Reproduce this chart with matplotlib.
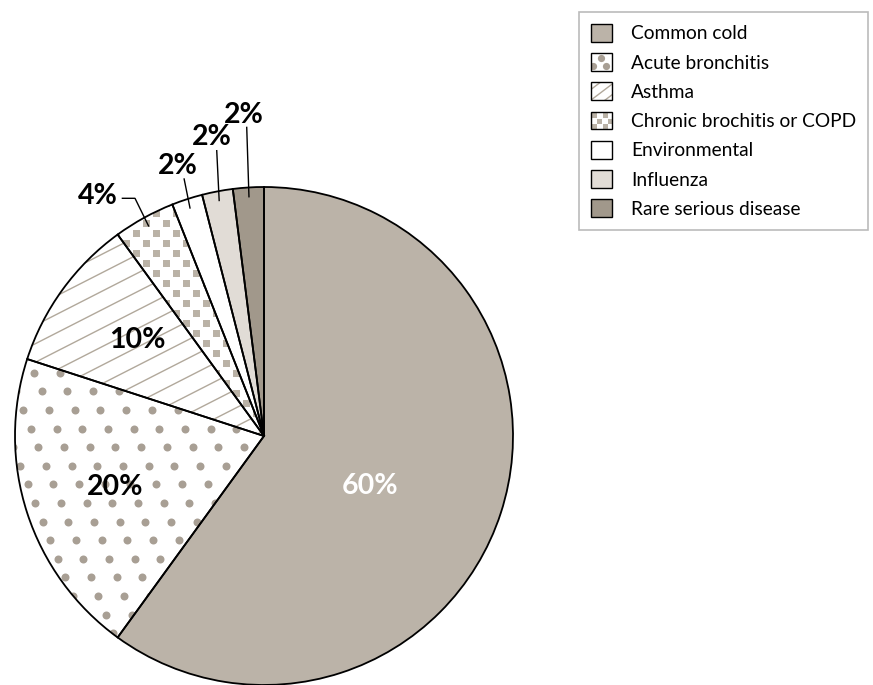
import numpy as np
import matplotlib
matplotlib.use("Agg")
import matplotlib.pyplot as plt
from matplotlib.collections import LineCollection
from matplotlib.legend_handler import HandlerBase
from matplotlib.patches import Rectangle
from matplotlib.lines import Line2D

# ---- data ----
categories = ["Common cold", "Acute bronchitis", "Asthma",
              "Chronic brochitis or COPD", "Environmental", "Influenza",
              "Rare serious disease"]
values = [60, 20, 10, 4, 2, 2, 2]
labels = ["60%", "20%", "10%", "4%", "2%", "2%", "2%"]

# ---- style ----
face_colors = ["#BBB3A8", "white", "white", "white", "white", "#E1DCD6", "#A1988B"]
patterns = [None, "dots", "lines", "squares", None, None, None]
DOT_C, SQ_C, LINE_C = "#A89F94", "#BAB2A6", "#B1A89B"
W, H = 873, 685
CX, CY_PX, R = 264, 436, 249
CY = H - CY_PX

plt.rcParams['font.family'] = ['Lato', 'DejaVu Sans']

fig = plt.figure(figsize=(W / 100, H / 100), dpi=100)
ax = fig.add_axes([0, 0, 1, 1])

wedges, _ = ax.pie(values, startangle=90, counterclock=False,
                   colors=face_colors, center=(CX, CY), radius=R,
                   wedgeprops=dict(linewidth=0, edgecolor='none'))


def px(x, y):
    return x, H - y


# pattern: dots (acute bronchitis)
pts = []
for i in range(-30, 30):
    for j in range(-30, 30):
        x = 34 + i * 25.7 + j * 7.5
        y = 372.7 + j * 18.6
        if -20 < x < 300 and 150 < y < 700:
            pts.append(px(x, y))
pts = np.array(pts)
sc = ax.scatter(pts[:, 0], pts[:, 1], s=(8.0 * 0.72) ** 2, c=DOT_C,
                linewidths=0, zorder=2)
sc.set_clip_path(wedges[1])

# pattern: squares (chronic)
pts = []
for i in range(-40, 40):
    for j in range(-40, 40):
        x = 135.7 + i * 20 + j * 10
        y = 232.7 + j * 10
        if 80 < x < 300 and 150 < y < 460:
            pts.append(px(x, y))
pts = np.array(pts)
sq = ax.scatter(pts[:, 0], pts[:, 1], s=(7.0 * 0.72) ** 2, marker='s',
                c=SQ_C, linewidths=0, zorder=2)
sq.set_clip_path(wedges[3])

# pattern: lines (asthma)
segs = []
for k in range(-30, 30):
    x0, x1 = 0, 300
    y0 = 296.7 - 0.51 * (x0 - 55) + k * 18.5
    y1 = 296.7 - 0.51 * (x1 - 55) + k * 18.5
    segs.append([px(x0, y0), px(x1, y1)])
lc = LineCollection(segs, colors=LINE_C, linewidths=1.0, zorder=2)
ax.add_collection(lc)
lc.set_clip_path(wedges[2])

# outlines on top
ax.pie(values, startangle=90, counterclock=False, center=(CX, CY), radius=R,
       wedgeprops=dict(fill=False, linewidth=1.3, edgecolor='black', zorder=3))

# ---- labels ----
big_pos = [(370, 486), (115, 487), (137, 340)]
ax.text(*px(*big_pos[0]), labels[0], color='white', fontsize=20.5,
        fontweight='bold', ha='center', va='center', zorder=5)
ax.text(*px(*big_pos[1]), labels[1], color='black', fontsize=20.5,
        fontweight='bold', ha='center', va='center', zorder=5)
ax.text(*px(*big_pos[2]), labels[2], color='black', fontsize=20.5,
        fontweight='bold', ha='center', va='center', zorder=5)

small_text = {3: (98, 196), 4: (178, 166), 5: (212, 137), 6: (244, 115)}
leader_top = {3: [(121.7, 198.3), (135, 198.3)], 4: [(184, 178.3)],
              5: [(216.7, 150)], 6: [(246.7, 126.7)]}
for idx in [3, 4, 5, 6]:
    w = wedges[idx]
    mid = np.deg2rad((w.theta1 + w.theta2) / 2)
    sx = CX + 0.96 * R * np.cos(mid)
    sy = CY + 0.96 * R * np.sin(mid)
    pts_l = [px(*p) for p in leader_top[idx]] + [(sx, sy)]
    ax.plot([p[0] for p in pts_l], [p[1] for p in pts_l], color='black',
            lw=1.0, zorder=4, solid_capstyle='butt')
    ax.text(*px(*small_text[idx]), labels[idx], color='black', fontsize=20.5,
            fontweight='bold', ha='center', va='center', zorder=5)


# ---- legend with patterned handles ----
class PatternHandler(HandlerBase):
    def __init__(self, kind, face):
        super().__init__()
        self.kind = kind
        self.face = face

    def create_artists(self, legend, orig_handle, xdescent, ydescent,
                       width, height, fontsize, trans):
        x0, y0 = -xdescent, -ydescent
        bg = Rectangle((x0, y0), width, height, facecolor=self.face,
                       edgecolor='none', transform=trans)
        arts = [bg]
        if self.kind == 'dots':
            fx = [0.46, 0.12, 0.72]
            fy = [0.70, 0.25, 0.25]
            ln = Line2D([x0 + f * width for f in fx],
                        [y0 + f * height for f in fy], ls='none', marker='o',
                        markersize=5.2, markerfacecolor=DOT_C,
                        markeredgewidth=0, transform=trans)
            ln.set_clip_path(bg)
            arts.append(ln)
        elif self.kind == 'squares':
            xs, ys = [], []
            for fx, fy in [(0.15, 0.82), (0.65, 0.82), (0.4, 0.5),
                           (0.9, 0.5), (0.15, 0.18), (0.65, 0.18)]:
                xs.append(x0 + fx * width)
                ys.append(y0 + fy * height)
            ln = Line2D(xs, ys, ls='none', marker='s', markersize=3.6,
                        markerfacecolor=SQ_C, markeredgewidth=0,
                        transform=trans)
            ln.set_clip_path(bg)
            arts.append(ln)
        elif self.kind == 'lines':
            for off in [-0.6, 0.0, 0.6]:
                ln = Line2D([x0, x0 + width],
                            [y0 + (off) * height, y0 + (off + 0.9) * height],
                            color=LINE_C, lw=1.0, transform=trans)
                ln.set_clip_path(bg)
                arts.append(ln)
        edge = Rectangle((x0, y0), width, height, facecolor='none',
                         edgecolor='black', lw=1.0, transform=trans)
        arts.append(edge)
        return arts


handler_map = {wedges[i]: PatternHandler(patterns[i], face_colors[i])
               for i in range(len(wedges))}
leg = ax.legend(wedges, categories, loc='upper left',
                bbox_to_anchor=(579 / W, 1 - 12 / H),
                bbox_transform=fig.transFigure, borderaxespad=0,
                fontsize=13.8, frameon=True, fancybox=False,
                handlelength=1.1, handleheight=1.05, handletextpad=1.0,
                labelspacing=0.565, borderpad=0.62, handler_map=handler_map)
leg.get_frame().set_edgecolor('#AAAAAA')
leg.get_frame().set_linewidth(1.2)

ax.set_xlim(0, W)
ax.set_ylim(0, H)
ax.set_aspect('equal')
ax.axis('off')

fig.savefig('out.png', dpi=100)
